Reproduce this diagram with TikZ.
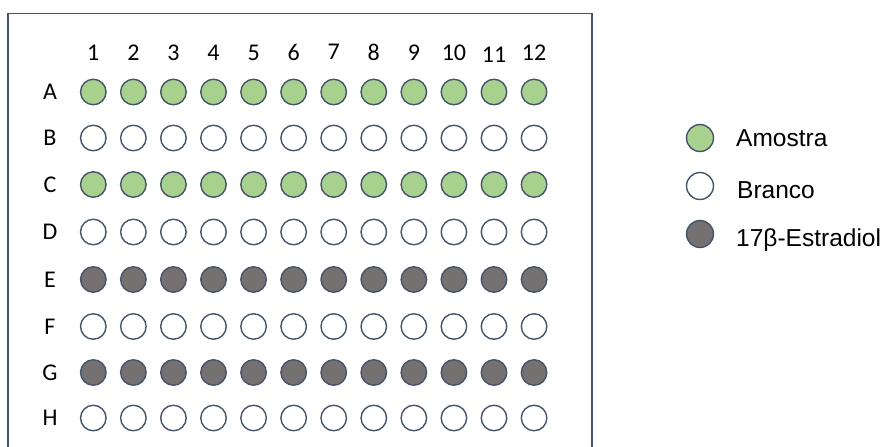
\documentclass[tikz,border=0pt]{standalone}
\usepackage{fontspec}
\setmainfont{Carlito}
\newfontfamily\legendfont{Liberation Sans}
\definecolor{wellline}{HTML}{44546A}
\definecolor{samplegreen}{HTML}{A9D18E}
\definecolor{estrgray}{HTML}{767171}
\tikzset{
  well/.style={circle, draw=wellline, line width=1.4pt, minimum size=25.5pt, inner sep=0pt},
  legwell/.style={circle, draw=wellline, line width=1.4pt, minimum size=27pt, inner sep=0pt},
  platelabel/.style={font=\fontsize{24}{24}\selectfont, text=black, inner sep=0pt, anchor=base},
  legendtext/.style={font=\legendfont\fontsize{24.5}{24.5}\selectfont, text=black, anchor=base west, inner sep=0pt},
  plateframe/.style={draw=wellline, line width=1.3pt}
}
\begin{document}
\begin{tikzpicture}[x=1pt,y=1pt]
\clip (0,0) rectangle (887,-447);
\fill[white] (0,0) rectangle (887,-447);
\draw[plateframe] (8,-13.3) rectangle (592,-470);
% column numbers
\foreach \c/\dy in {1/0,2/0,3/0,4/0,5/0,6/0,7/-1.5,8/0,9/0,10/0,11/1.5,12/0}{
  \node[platelabel] (col\c) at ({93.3+(\c-1)*40.07},{-60.5-\dy}) {\c};
}
% rows
\foreach \r/\y/\fillc in {A/92/samplegreen, B/138/white, C/184.5/samplegreen, D/232/white, E/279.5/estrgray, F/326.5/white, G/372.5/estrgray, H/418/white}{
  \node[platelabel] (row\r) at (50,{-\y-7.7}) {\r};
  \foreach \c in {1,...,12}{
    \node[well, fill=\fillc] (w\r\c) at ({93.3+(\c-1)*40.07},-\y) {};
  }
}
% legend
\node[legwell, fill=samplegreen] (legA) at (700,-138) {};
\node[legwell, fill=white] (legB) at (700,-186) {};
\node[legwell, fill=estrgray] (legE) at (700,-234) {};
\node[legendtext] (txtA) at (736,-146) {Amostra};
\node[legendtext] (txtB) at (737,-198.3) {Branco};
\node[legendtext] (txtE) at (736,-246) {17β-Estradiol};
\end{tikzpicture}
\end{document}
